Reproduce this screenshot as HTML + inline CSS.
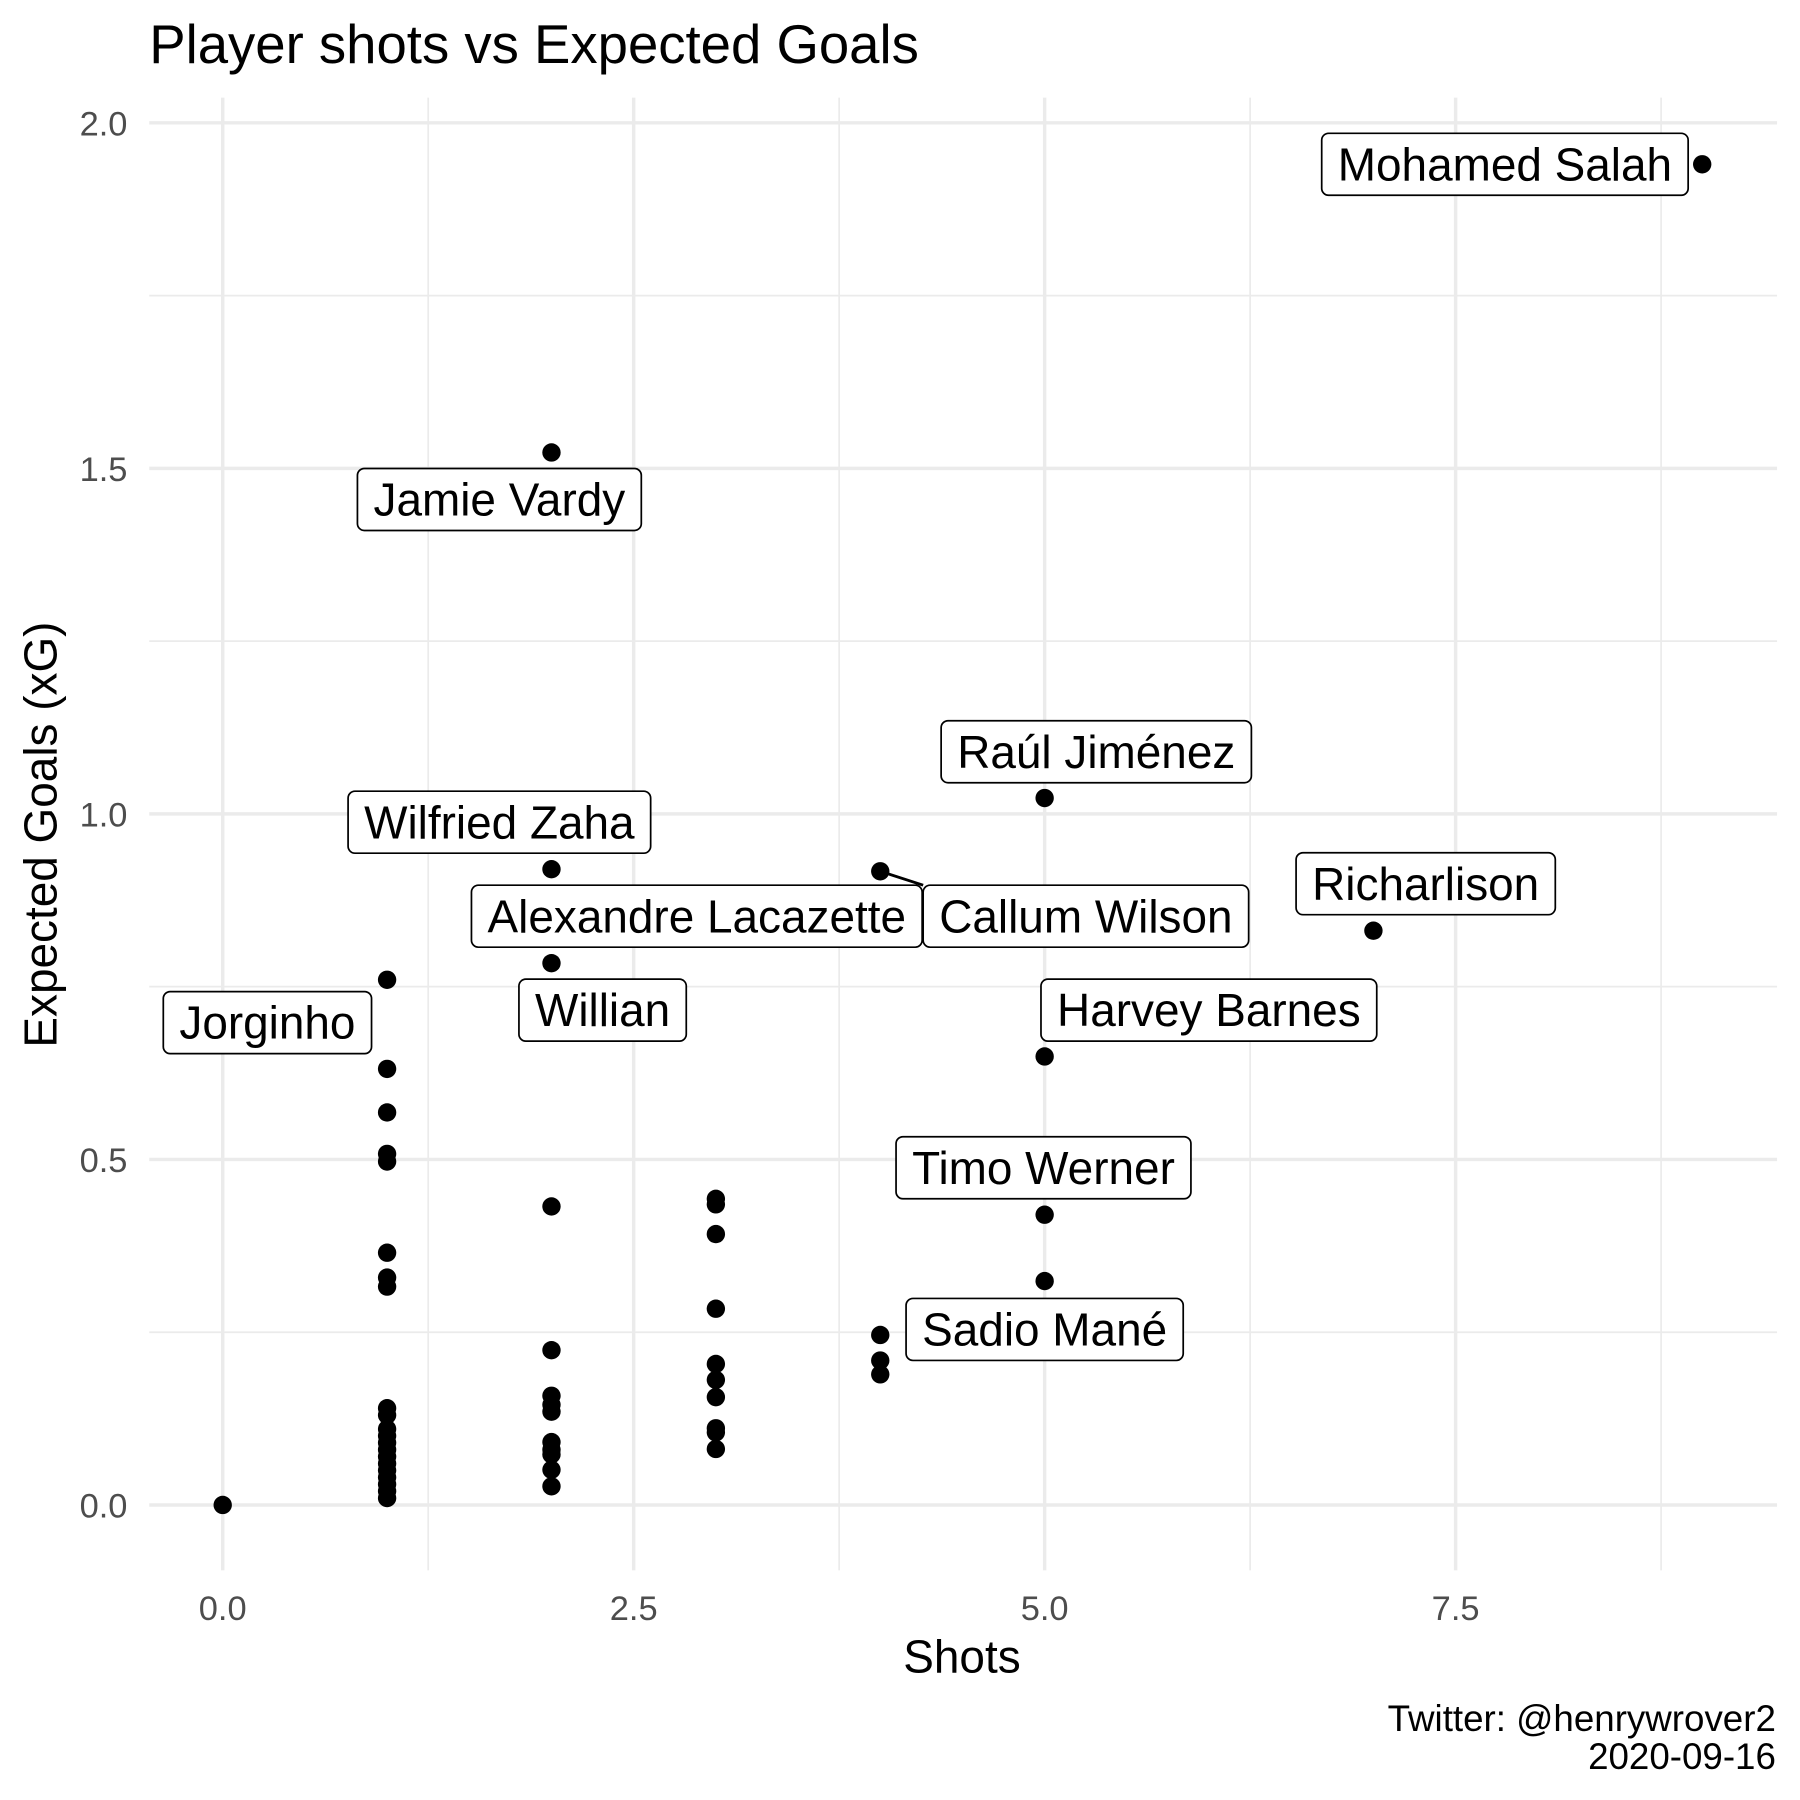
<!DOCTYPE html>
<html><head><meta charset="utf-8"><style>
html,body{margin:0;padding:0;background:#fff;}
svg{display:block;font-family:"Liberation Sans",Arial,sans-serif;}
</style></head><body>
<svg id="chart" width="1800" height="1800" viewBox="0 0 1568 1568" xmlns="http://www.w3.org/2000/svg">
<rect x="0" y="0" width="1568" height="1568" fill="#fff"/>
<text x="130" y="55" font-size="47.5" fill="#000">Player shots vs Expected Goals</text>
<g id="grid"></g>
<g id="ticks"></g>
<g id="segments"></g>
<g id="points"></g>
<g id="labels"></g>
<text x="838" y="1457" font-size="40" text-anchor="middle" fill="#000">Shots</text>
<text transform="translate(49,727) rotate(-90)" font-size="40" text-anchor="middle" fill="#000">Expected Goals (xG)</text>
<text x="1547" y="1508" font-size="32" text-anchor="end" fill="#000">Twitter: @henrywrover2</text>
<text x="1547" y="1541" font-size="32" text-anchor="end" fill="#000">2020-09-16</text>
</svg>
<script>
const shots = [0,1,1,1,1,1,1,1,1,1,1,1,1,1,1,1,1,1,1,1,1,1,2,2,2,2,2,2,2,2,2,2,2,2,2,3,3,3,3,3,3,3,3,3,3,4,4,4,4,5,5,5,5,7,9];
const xg = [0,0.76,0.631,0.568,0.508,0.497,0.365,0.329,0.316,0.14,0.13,0.11,0.10,0.09,0.08,0.07,0.06,0.05,0.04,0.03,0.02,0.01,
  1.523,0.92,0.784,0.432,0.224,0.158,0.145,0.135,0.091,0.08,0.073,0.051,0.027,
  0.443,0.435,0.392,0.284,0.204,0.181,0.156,0.111,0.105,0.081,
  0.917,0.246,0.209,0.189,1.023,0.649,0.420,0.324,0.831,1.940];
const xTicks = [0,2.5,5,7.5];
const xTickLabels = ["0.0","2.5","5.0","7.5"];
const yTicks = [0,0.5,1,1.5,2];
const yTickLabels = ["0.0","0.5","1.0","1.5","2.0"];
const labelNames = ["Mohamed Salah","Jamie Vardy","Raúl Jiménez","Wilfried Zaha","Alexandre Lacazette","Callum Wilson","Richarlison","Jorginho","Willian","Harvey Barnes","Timo Werner","Sadio Mané"];
const labelShots = [9,2,5,2,2,4,7,1,2,5,5,5];
const labelXg = [1.940,1.523,1.023,0.92,0.784,0.917,0.831,0.76,0.784,0.649,0.420,0.324];
const labelPosX = [7.80,1.683,5.314,1.683,2.884,5.251,7.318,0.272,2.311,5.999,4.993,5.0];
const labelPosY = [1.940,1.455,1.090,0.988,0.852,0.852,0.899,0.698,0.716,0.716,0.488,0.254];

const NS="http://www.w3.org/2000/svg";
const px0=130, px1=1548, py0=85, py1=1368;
function sx(v){return 194 + v*143.2;}
function sy(v){return 1311 - v*602;}
function mk(tag,attrs,parent){const e=document.createElementNS(NS,tag);for(const k in attrs)e.setAttribute(k,attrs[k]);parent.appendChild(e);return e;}
const grid=document.getElementById('grid'), ticks=document.getElementById('ticks');
[1.25,3.75,6.25,8.75].forEach(v=>{const l=mk('line',{x1:sx(v),x2:sx(v),y1:py0,y2:py1,stroke:'#ebebeb','stroke-width':1.5},grid);

});
[0.25,0.75,1.25,1.75].forEach(v=>{const l=mk('line',{x1:px0,x2:px1,y1:sy(v),y2:sy(v),stroke:'#ebebeb','stroke-width':1.5},grid);

});
xTicks.forEach((v,i)=>{const l=mk('line',{x1:sx(v),x2:sx(v),y1:py0,y2:py1,stroke:'#ebebeb','stroke-width':3},grid);


const t=mk('text',{x:sx(v),y:1411,'font-size':30,'text-anchor':'middle',fill:'#4d4d4d'},ticks);t.textContent=xTickLabels[i];

});
yTicks.forEach((v,i)=>{const l=mk('line',{x1:px0,x2:px1,y1:sy(v),y2:sy(v),stroke:'#ebebeb','stroke-width':3},grid);


const t=mk('text',{x:111,y:sy(v)+11,'font-size':30,'text-anchor':'end',fill:'#4d4d4d'},ticks);t.textContent=yTickLabels[i];

});
const pts=document.getElementById('points');
shots.forEach((s,i)=>{const c=mk('circle',{cx:sx(s),cy:sy(xg[i]),r:8,fill:'#000'},pts);

});
const lab=document.getElementById('labels'), seg=document.getElementById('segments');
labelNames.forEach((n,i)=>{
  const cx=sx(labelPosX[i]), cy=sy(labelPosY[i]);
  const g=mk('g',{},lab);
  
  
  const r=mk('rect',{fill:'#fff',stroke:'#000','stroke-width':1.5,rx:6,ry:6},g);
  const t=mk('text',{x:cx,y:cy+14,'font-size':40,'text-anchor':'middle',fill:'#000'},g);
  t.textContent=n;
  const w=t.getComputedTextLength()+28, h=54;
  const bx=cx-w/2, by=cy-h/2;
  r.setAttribute('x',bx);r.setAttribute('y',by);r.setAttribute('width',w);r.setAttribute('height',h);
  const ptx=sx(labelShots[i]), pty=sy(labelXg[i]);
  const nx=Math.max(bx,Math.min(bx+w,ptx)), ny=Math.max(by,Math.min(by+h,pty));
  if(Math.hypot(nx-ptx,ny-pty)>32){
    const s=mk('line',{x1:ptx,y1:pty,x2:nx,y2:ny,stroke:'#000','stroke-width':2.5},seg);
    
    
  }
});
</script>
</body></html>
